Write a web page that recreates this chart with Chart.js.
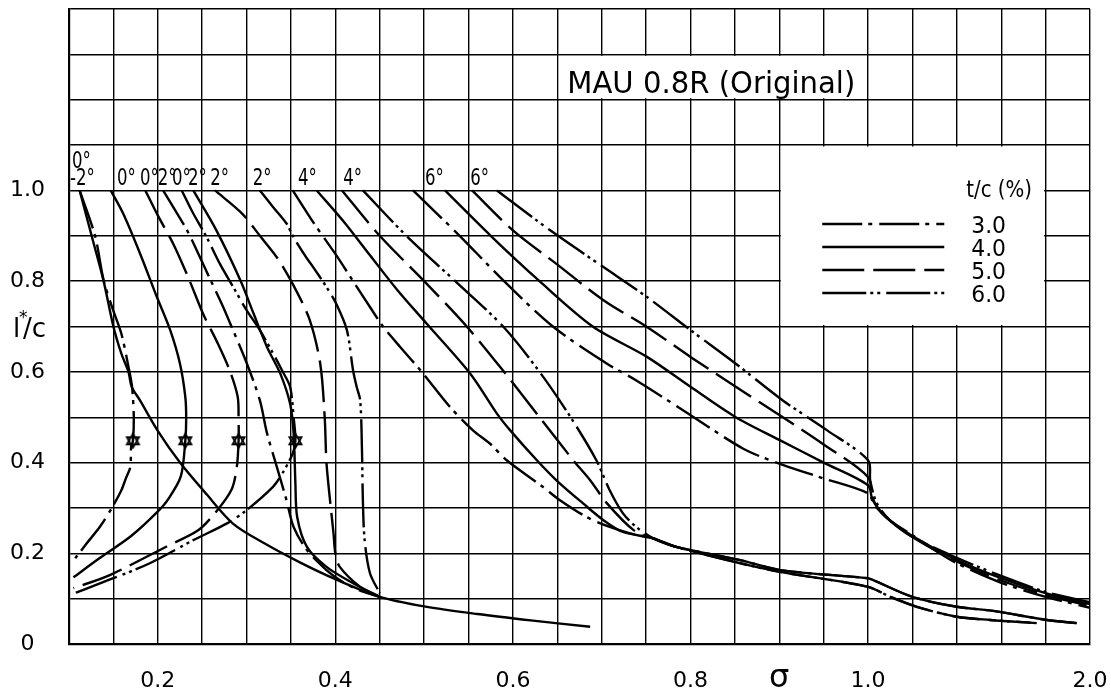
<!DOCTYPE html>
<html>
<head>
<meta charset="utf-8">
<script src="https://cdn.jsdelivr.net/npm/chart.js@4.4.1/dist/chart.umd.min.js"></script>
<style>
  html, body { margin: 0; padding: 0; background: #fff; }
  canvas { display: block; }
</style>
</head>
<body>
<canvas id="chart" width="1111" height="696"></canvas>
<script>
// axis labels
const xTickSigma = [0.2, 0.4, 0.6, 0.8, 1.0, 2.0];
const xTickLabels = ['0.2', '0.4', '0.6', '0.8', '1.0', '2.0'];
const yTickValues = [0, 0.2, 0.4, 0.6, 0.8, 1.0];
const yTickLabels = ['0', '0.2', '0.4', '0.6', '0.8', '1.0'];

// t/c (%) series names
const thickness = ['3.0', '4.0', '5.0', '6.0'];

// angle labels along the top of the curves
const angleText = ['0°', '-2°', '0°', '0°', '2°', '0°', '2°', '2°', '2°', '4°', '4°', '6°', '6°'];
const angleSigma = [0.1034, 0.1011, 0.154, 0.18, 0.2, 0.216, 0.234, 0.259, 0.307, 0.358, 0.409, 0.501, 0.552];
const angleLc = [1.05, 1.013, 1.013, 1.013, 1.013, 1.013, 1.013, 1.013, 1.013, 1.013, 1.013, 1.013, 1.013];

// alpha = -2 deg
const m2Sigma = [0.112, 0.1255, 0.139, 0.150, 0.159, 0.167, 0.1706, 0.180, 0.200, 0.225, 0.255, 0.285, 0.320, 0.360, 0.400, 0.450, 0.500, 0.560, 0.620, 0.687];
const m2Lc    = [1.000, 0.900, 0.800, 0.700, 0.640, 0.600, 0.567, 0.537, 0.470, 0.400, 0.330, 0.265, 0.222, 0.180, 0.143, 0.104, 0.083, 0.066, 0.052, 0.038];

// alpha = 0 deg (each passes a star, then turns back)
const a0t3Sigma = [0.112, 0.1293, 0.139, 0.149, 0.159, 0.167, 0.171, 0.173, 0.172, 0.170, 0.169, 0.164, 0.159, 0.148, 0.135, 0.120, 0.107];
const a0t3Lc    = [1.000, 0.900, 0.802, 0.740, 0.684, 0.611, 0.567, 0.500, 0.448, 0.434, 0.390, 0.365, 0.339, 0.299, 0.259, 0.222, 0.189];
const a0t4Sigma = [0.147, 0.161, 0.180, 0.199, 0.214, 0.225, 0.231, 0.232, 0.231, 0.226, 0.212, 0.199, 0.170, 0.135, 0.105];
const a0t4Lc    = [1.000, 0.949, 0.861, 0.765, 0.692, 0.618, 0.545, 0.497, 0.448, 0.370, 0.320, 0.290, 0.238, 0.190, 0.147];
const a0t5Sigma = [0.186, 0.200, 0.2175, 0.235, 0.251, 0.267, 0.281, 0.290, 0.291, 0.291, 0.289, 0.283, 0.265, 0.245, 0.210, 0.146, 0.105];
const a0t5Lc    = [1.000, 0.945, 0.882, 0.805, 0.728, 0.665, 0.603, 0.545, 0.500, 0.448, 0.390, 0.340, 0.290, 0.250, 0.215, 0.152, 0.123];
const a0t6Sigma = [0.227, 0.240, 0.255, 0.270, 0.285, 0.300, 0.315, 0.330, 0.340, 0.349, 0.353, 0.355, 0.352, 0.340, 0.330, 0.300, 0.278, 0.240, 0.191, 0.150, 0.105];
const a0t6Lc    = [1.000, 0.949, 0.897, 0.838, 0.787, 0.736, 0.692, 0.640, 0.603, 0.567, 0.500, 0.448, 0.420, 0.375, 0.347, 0.295, 0.266, 0.229, 0.178, 0.145, 0.111];

// alpha = 2 deg
const a2t3Sigma = [0.206, 0.220, 0.233, 0.247, 0.260, 0.272, 0.283, 0.300, 0.315, 0.323, 0.334, 0.345, 0.353, 0.368, 0.390, 0.405, 0.425, 0.450];
const a2t3Lc    = [1.000, 0.955, 0.912, 0.855, 0.800, 0.750, 0.700, 0.620, 0.537, 0.465, 0.391, 0.317, 0.258, 0.207, 0.163, 0.141, 0.120, 0.104];
const a2t4Sigma = [0.240, 0.266, 0.293, 0.308, 0.323, 0.338, 0.349, 0.353, 0.355, 0.357, 0.368, 0.390, 0.420, 0.450];
const a2t4Lc    = [1.000, 0.912, 0.802, 0.728, 0.655, 0.596, 0.530, 0.465, 0.355, 0.280, 0.214, 0.170, 0.134, 0.104];
const a2t5Sigma = [0.2645, 0.295, 0.315, 0.335, 0.353, 0.371, 0.383, 0.388, 0.390, 0.394, 0.398, 0.400, 0.405, 0.428, 0.450];
const a2t5Lc    = [1.000, 0.949, 0.900, 0.850, 0.790, 0.715, 0.618, 0.500, 0.400, 0.317, 0.243, 0.200, 0.170, 0.126, 0.104];
const a2t6Sigma = [0.315, 0.330, 0.345, 0.352, 0.367, 0.375, 0.390, 0.401, 0.413, 0.420, 0.424, 0.428, 0.430, 0.431, 0.433, 0.439, 0.450];
const a2t6Lc    = [1.000, 0.963, 0.927, 0.900, 0.853, 0.831, 0.787, 0.750, 0.692, 0.603, 0.567, 0.537, 0.427, 0.317, 0.229, 0.156, 0.112];

// alpha = 4 deg
const a4t3Sigma = [0.352, 0.375, 0.400, 0.420, 0.439, 0.454, 0.473, 0.499, 0.529, 0.555, 0.574, 0.593, 0.634, 0.653, 0.683, 0.709, 0.732, 0.758, 0.784, 0.856, 0.901, 1.0, 1.023, 1.2, 1.4, 1.564, 1.806, 1.94];
const a4t3Lc    = [1.000, 0.930, 0.860, 0.800, 0.743, 0.699, 0.655, 0.596, 0.523, 0.471, 0.442, 0.405, 0.346, 0.317, 0.280, 0.258, 0.244, 0.233, 0.214, 0.185, 0.163, 0.145, 0.141, 0.104, 0.082, 0.073, 0.053, 0.046];
const a4t4Sigma = [0.379, 0.410, 0.439, 0.470, 0.503, 0.552, 0.582, 0.597, 0.627, 0.649, 0.679, 0.702, 0.724, 0.758, 0.784, 0.856, 0.901, 1.0, 1.023, 1.2, 1.4, 1.564, 1.806, 1.94];
const a4t4Lc    = [1.000, 0.930, 0.857, 0.780, 0.706, 0.596, 0.508, 0.471, 0.405, 0.361, 0.310, 0.273, 0.247, 0.233, 0.214, 0.185, 0.163, 0.145, 0.141, 0.104, 0.082, 0.073, 0.053, 0.046];
const a4t5Sigma = [0.4075, 0.450, 0.500, 0.548, 0.590, 0.630, 0.668, 0.687, 0.706, 0.736, 0.758, 0.784, 0.856, 0.901, 1.0, 1.1, 1.22, 1.4, 1.55, 1.76];
const a4t5Lc    = [1.000, 0.900, 0.800, 0.700, 0.600, 0.500, 0.405, 0.361, 0.310, 0.251, 0.233, 0.214, 0.178, 0.159, 0.126, 0.104, 0.082, 0.060, 0.053, 0.046];
const a4t6Sigma = [0.431, 0.480, 0.535, 0.589, 0.630, 0.665, 0.694, 0.709, 0.724, 0.739, 0.758, 0.784, 0.856, 0.901, 1.0, 1.1, 1.22, 1.4, 1.55, 1.76];
const a4t6Lc    = [1.000, 0.900, 0.800, 0.700, 0.600, 0.500, 0.405, 0.339, 0.288, 0.258, 0.233, 0.214, 0.178, 0.159, 0.126, 0.104, 0.082, 0.060, 0.053, 0.046];

// alpha = 6 deg
const a6t3Sigma = [0.4875, 0.54, 0.59, 0.645, 0.706, 0.739, 0.792, 0.86, 0.904, 0.95, 1.0, 1.03, 1.1, 1.2, 1.3, 1.4, 1.6, 1.8, 2.0];
const a6t3Lc    = [1.000, 0.900, 0.800, 0.700, 0.618, 0.581, 0.515, 0.430, 0.395, 0.365, 0.332, 0.305, 0.272, 0.240, 0.207, 0.178, 0.135, 0.104, 0.080];
const a6t4Sigma = [0.5235, 0.575, 0.63, 0.69, 0.751, 0.80, 0.851, 0.90, 0.95, 1.0, 1.02, 1.08, 1.2, 1.4, 1.6, 1.8, 2.0];
const a6t4Lc    = [1.000, 0.900, 0.800, 0.700, 0.633, 0.567, 0.500, 0.450, 0.400, 0.350, 0.318, 0.280, 0.238, 0.185, 0.145, 0.112, 0.088];
const a6t5Sigma = [0.554, 0.60, 0.649, 0.702, 0.751, 0.80, 0.851, 0.904, 0.95, 1.0, 1.02, 1.07, 1.2, 1.4, 1.6, 1.8, 2.0];
const a6t5Lc    = [1.000, 0.912, 0.838, 0.758, 0.699, 0.633, 0.567, 0.500, 0.440, 0.368, 0.322, 0.285, 0.236, 0.182, 0.140, 0.108, 0.084];
const a6t6Sigma = [0.582, 0.642, 0.702, 0.751, 0.80, 0.851, 0.904, 0.954, 1.0, 1.01, 1.04, 1.1, 1.2, 1.4, 1.6, 1.8, 2.0];
const a6t6Lc    = [1.000, 0.912, 0.831, 0.765, 0.692, 0.618, 0.537, 0.471, 0.405, 0.360, 0.310, 0.272, 0.236, 0.190, 0.150, 0.115, 0.092];

// star markers (turning points of the 0 deg curves)
const starSigma = [0.172, 0.231, 0.291, 0.355];
const starLc    = [0.448, 0.448, 0.448, 0.448];

// line pattern per t/c
const dashes = {
  '3.0': [40, 6, 4, 7],
  '4.0': [],
  '5.0': [42, 9],
  '6.0': [44, 4, 3, 4, 3, 6]
};

// sigma above 1.0 is drawn on a squeezed scale (1.0 -> 2.0 takes 5 cells)
const squeeze = s => (s <= 1 ? s : 1 + (s - 1) / 4);

const curves = [
  [m2Sigma, m2Lc, '4.0'],
  [a0t3Sigma, a0t3Lc, '3.0'], [a0t4Sigma, a0t4Lc, '4.0'], [a0t5Sigma, a0t5Lc, '5.0'], [a0t6Sigma, a0t6Lc, '6.0'],
  [a2t3Sigma, a2t3Lc, '3.0'], [a2t4Sigma, a2t4Lc, '4.0'], [a2t5Sigma, a2t5Lc, '5.0'], [a2t6Sigma, a2t6Lc, '6.0'],
  [a4t3Sigma, a4t3Lc, '3.0'], [a4t4Sigma, a4t4Lc, '4.0'], [a4t5Sigma, a4t5Lc, '5.0'], [a4t6Sigma, a4t6Lc, '6.0'],
  [a6t3Sigma, a6t3Lc, '3.0'], [a6t4Sigma, a6t4Lc, '4.0'], [a6t5Sigma, a6t5Lc, '5.0'], [a6t6Sigma, a6t6Lc, '6.0']
];

function hexagram(size) {
  const c = document.createElement('canvas');
  c.width = c.height = size;
  const g = c.getContext('2d');
  const r = size / 2 - 1.5, m = size / 2;
  const tri = a0 => {
    g.beginPath();
    for (let k = 0; k < 3; k++) {
      const a = a0 + k * 2 * Math.PI / 3;
      g.lineTo(m + r * Math.cos(a), m + r * Math.sin(a));
    }
    g.closePath();
  };
  g.fillStyle = '#fff';
  g.strokeStyle = '#000';
  g.lineWidth = 1.8;
  tri(-Math.PI / 2); g.fill();
  tri(Math.PI / 2); g.fill();
  tri(-Math.PI / 2); g.stroke();
  tri(Math.PI / 2); g.stroke();
  return c;
}

const datasets = curves.map(([s, l, t]) => ({
  label: t,
  data: s.map((v, i) => ({ x: squeeze(v), y: l[i] })),
  showLine: true,
  borderColor: '#000',
  borderWidth: 2.4,
  borderDash: dashes[t],
  pointRadius: 0,
  tension: 0.3,
  fill: false
}));

datasets.push({
  label: 'stars',
  data: starSigma.map((v, i) => ({ x: squeeze(v), y: starLc[i] })),
  showLine: false,
  pointStyle: hexagram(17),
  pointRadius: 8
});

const FONT = '"DejaVu Sans", sans-serif';

function putText(ctx, str, x, y, size, sx = 1, align = 'left') {
  ctx.save();
  ctx.font = size + 'px ' + FONT;
  ctx.fillStyle = '#000';
  ctx.textAlign = align;
  ctx.textBaseline = 'alphabetic';
  ctx.translate(x, y);
  ctx.scale(sx, 1);
  ctx.fillText(str, 0, 0);
  ctx.restore();
}

const decor = {
  id: 'decor',
  beforeDatasetsDraw(chart) {
    const { ctx, scales: { x, y } } = chart;
    const px = s => x.getPixelForValue(squeeze(s));
    const py = v => y.getPixelForValue(v);

    // title box
    let x0 = px(0.65), x1 = px(1.0), y0 = py(1.3), y1 = py(1.2);
    ctx.fillStyle = '#fff';
    ctx.fillRect(x0 + 1.5, y0 + 1.5, x1 - x0 - 3, y1 - y0 - 3);
    ctx.font = '30px ' + FONT;
    const title = 'MAU 0.8R (Original)';
    const w = ctx.measureText(title).width;
    putText(ctx, title, x0 + 10, y1 - 7, 30, Math.min(1, 288 / w));

    // legend box
    x0 = px(0.9); x1 = px(1.8); y0 = py(1.1); y1 = py(0.7);
    ctx.fillStyle = '#fff';
    ctx.fillRect(x0 + 1.5, y0 + 1.5, x1 - x0 - 3, y1 - y0 - 3);
    putText(ctx, 't/c (%)', x0 + 187, y0 + 52, 23, 0.86);
    thickness.forEach((t, i) => {
      const ly = y0 + 79 + i * 23;
      ctx.save();
      ctx.strokeStyle = '#000';
      ctx.lineWidth = 2.4;
      ctx.setLineDash(dashes[t]);
      ctx.beginPath();
      ctx.moveTo(x0 + 43, ly);
      ctx.lineTo(x0 + 165, ly);
      ctx.stroke();
      ctx.restore();
      putText(ctx, t, x0 + 192, ly + 9, 23, 0.95);
    });

    // angle labels
    angleText.forEach((t, i) => {
      putText(ctx, t, px(angleSigma[i]), py(angleLc[i]), 23, 0.72);
    });

    // axis names
    putText(ctx, 'l', 13, 337, 26);
    putText(ctx, '*', 19, 323, 17);
    putText(ctx, '/c', 23, 337, 26);
    putText(ctx, 'σ', px(0.9), 687, 32, 1, 'center');
  }
};

const xGrid = Array.from({ length: 24 }, (_, i) => +(0.1 + i * 0.05).toFixed(2));
const yGrid = Array.from({ length: 15 }, (_, i) => +(i * 0.1).toFixed(1));

new Chart(document.getElementById('chart'), {
  type: 'scatter',
  data: { datasets },
  options: {
    responsive: false,
    animation: false,
    devicePixelRatio: 1,
    layout: { padding: { top: 8, right: 21, left: 0, bottom: 0 } },
    plugins: { legend: { display: false }, tooltip: { enabled: false } },
    scales: {
      x: {
        type: 'linear',
        min: 0.1,
        max: 1.25,
        afterBuildTicks: s => { s.ticks = xGrid.map(v => ({ value: v })); },
        afterFit: s => { s.height = 52; s.paddingLeft = 0; s.paddingRight = 0; },
        grid: { color: '#000', lineWidth: 1.4, drawTicks: false },
        border: { color: '#000', width: 2.2 },
        ticks: {
          autoSkip: false,
          maxRotation: 0,
          padding: 24,
          color: '#000',
          font: { family: 'DejaVu Sans', size: 22 },
          callback: v => {
            const i = xTickSigma.findIndex(s => Math.abs(squeeze(s) - v) < 1e-6);
            return i >= 0 ? xTickLabels[i] : '';
          }
        }
      },
      y: {
        type: 'linear',
        min: 0,
        max: 1.4,
        afterBuildTicks: s => { s.ticks = yGrid.map(v => ({ value: v })); },
        afterFit: s => { s.width = 69; s.paddingTop = 0; s.paddingBottom = 0; },
        grid: { color: '#000', lineWidth: 1.4, drawTicks: false },
        border: { color: '#000', width: 2.2 },
        ticks: {
          autoSkip: false,
          padding: 24,
          crossAlign: 'center',
          color: '#000',
          font: { family: 'DejaVu Sans', size: 22 },
          callback: v => {
            const i = yTickValues.findIndex(t => Math.abs(t - v) < 1e-6);
            return i >= 0 ? yTickLabels[i] : '';
          }
        }
      }
    }
  },
  plugins: [decor]
});
</script>
</body>
</html>
